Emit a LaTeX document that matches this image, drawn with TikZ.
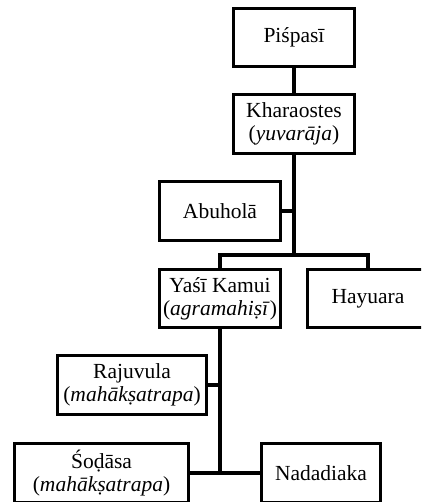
\documentclass[tikz,border=0pt]{standalone}
\usepackage{fontspec}
\setmainfont{Liberation Serif}
\begin{document}
\begin{tikzpicture}[x=1pt,y=-1pt,
  box/.style={draw, line width=3.2pt, align=center, inner sep=0pt,
    minimum height=58.5pt, font=\fontsize{21.5}{23}\selectfont},
  conn/.style={line width=3.2pt, line join=miter}]
\useasboundingbox (0,0) rectangle (421,502);
\clip (0,0) rectangle (421,502);
\node[box, minimum width=121pt] (pis) at (294,37.5) {Piśpasī};
\node[box, minimum width=121pt] (kha) at (294,124) {Kharaostes\\(\textit{yuvarāja})};
\node[box, minimum width=121pt] (abu) at (220,211) {Abuholā};
\node[box, minimum width=121pt] (yas) at (220,298.5) {Yaśī Kamui\\(\textit{agramahiṣī})};
\node[box, minimum width=121pt] (hay) at (368,298.5) {Hayuara};
\node[box, minimum width=149pt] (raj) at (132,385) {Rajuvula\\(\textit{mahākṣatrapa})};
\node[box, minimum width=174pt] (sod) at (101.5,473) {Śoḍāsa\\(\textit{mahākṣatrapa})};
\node[box, minimum width=119pt] (nad) at (321,473) {Nadadiaka};
\coordinate (j1) at (294,255);
\draw[conn] (pis) -- (kha);
\draw[conn] (kha.south) -- (j1);
\draw[conn] (abu.east) -- (abu.east -| j1);
\draw[conn] (yas.north) -- (yas.north |- j1) -- (hay.north |- j1) -- (hay.north);
\draw[conn] (yas.south) -- (yas.south |- sod.east);
\draw[conn] (raj.east) -- (raj.east -| yas.south);
\draw[conn] (sod.east) -- (nad.west);
\end{tikzpicture}
\end{document}
